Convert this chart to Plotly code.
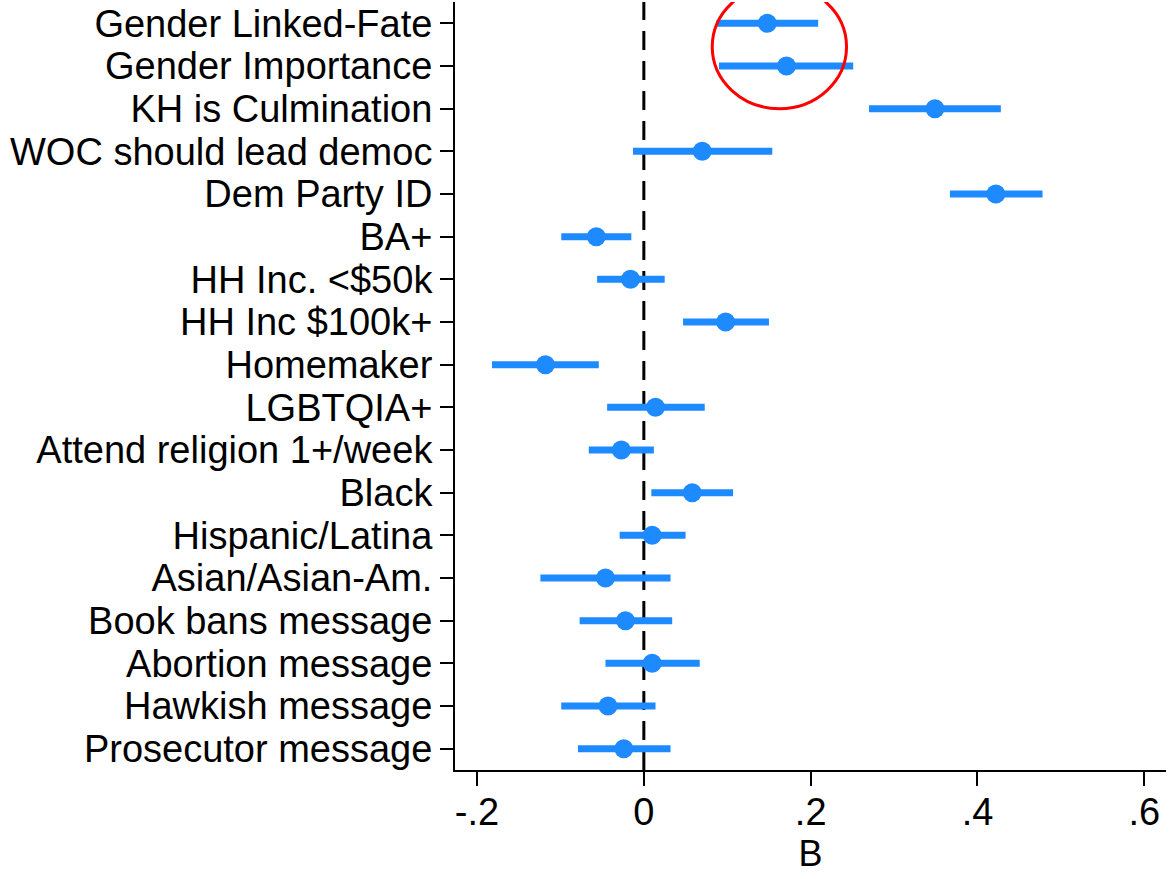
import plotly.graph_objects as go

labels = [
    "Gender Linked-Fate", "Gender Importance", "KH is Culmination",
    "WOC should lead democ", "Dem Party ID", "BA+", "HH Inc. <$50k",
    "HH Inc $100k+", "Homemaker", "LGBTQIA+", "Attend religion 1+/week",
    "Black", "Hispanic/Latina", "Asian/Asian-Am.", "Book bans message",
    "Abortion message", "Hawkish message", "Prosecutor message",
]
coef = [0.148, 0.171, 0.349, 0.070, 0.422, -0.057, -0.016, 0.098, -0.118,
        0.014, -0.027, 0.058, 0.010, -0.046, -0.022, 0.010, -0.043, -0.024]
ci_low = [0.087, 0.090, 0.270, -0.013, 0.367, -0.099, -0.056, 0.047, -0.182,
          -0.044, -0.066, 0.009, -0.029, -0.124, -0.077, -0.046, -0.099, -0.079]
ci_high = [0.209, 0.251, 0.428, 0.154, 0.478, -0.015, 0.025, 0.150, -0.054,
           0.073, 0.012, 0.107, 0.050, 0.032, 0.034, 0.067, 0.014, 0.032]

x_ticks = [-0.2, 0, 0.2, 0.4, 0.6]
x_tick_text = ["-.2", "0", ".2", ".4", ".6"]

# highlight ellipse (x in data units, y in category index units)
highlight_x = [0.082, 0.243]
highlight_y = [-0.9, 2.0]

BLUE = "#1e8aff"
FONT = "Liberation Sans, Arial, sans-serif"

fig = go.Figure()
fig.add_trace(go.Scatter(
    x=coef, y=labels, mode="markers",
    marker=dict(size=19, color=BLUE, line=dict(width=0)),
    error_x=dict(type="data", symmetric=False,
                 array=[h - c for h, c in zip(ci_high, coef)],
                 arrayminus=[c - l for c, l in zip(coef, ci_low)],
                 color=BLUE, thickness=7, width=0),
    showlegend=False, cliponaxis=False,
))

fig.add_shape(type="line", xref="x", yref="paper", x0=0, x1=0, y0=0, y1=1,
              line=dict(color="black", width=3, dash="19px,11px"), layer="below")
fig.add_shape(type="circle", xref="x", yref="y",
              x0=highlight_x[0], x1=highlight_x[1],
              y0=highlight_y[0], y1=highlight_y[1],
              line=dict(color="#ff0000", width=3))

fig.update_layout(
    width=1170, height=879,
    margin=dict(l=455, r=4, t=2, b=109),
    plot_bgcolor="white", paper_bgcolor="white",
    font=dict(family=FONT, size=38, color="black"),
)
fig.update_xaxes(
    range=[-0.2264, 0.626], tickvals=x_ticks, ticktext=x_tick_text,
    showgrid=False, zeroline=False, showline=True, linecolor="black", linewidth=2,
    ticks="outside", ticklen=14, tickwidth=2, tickcolor="black",
    title=dict(text="B", font=dict(size=36), standoff=8),
    tickfont=dict(size=38), automargin=False, ticklabelstandoff=-7,
)
fig.update_yaxes(
    type="category", categoryorder="array", categoryarray=labels,
    tickmode="array", tickvals=labels, ticktext=labels,
    range=[17.5, -0.5], showgrid=False, zeroline=False,
    showline=True, linecolor="black", linewidth=2,
    ticks="outside", ticklen=13, tickwidth=2, tickcolor="black",
    tickfont=dict(size=38), automargin=False,
)

fig.write_html("out.html", config={"displayModeBar": False},
               post_script="document.body.style.margin='0';document.body.style.overflow='hidden';")
